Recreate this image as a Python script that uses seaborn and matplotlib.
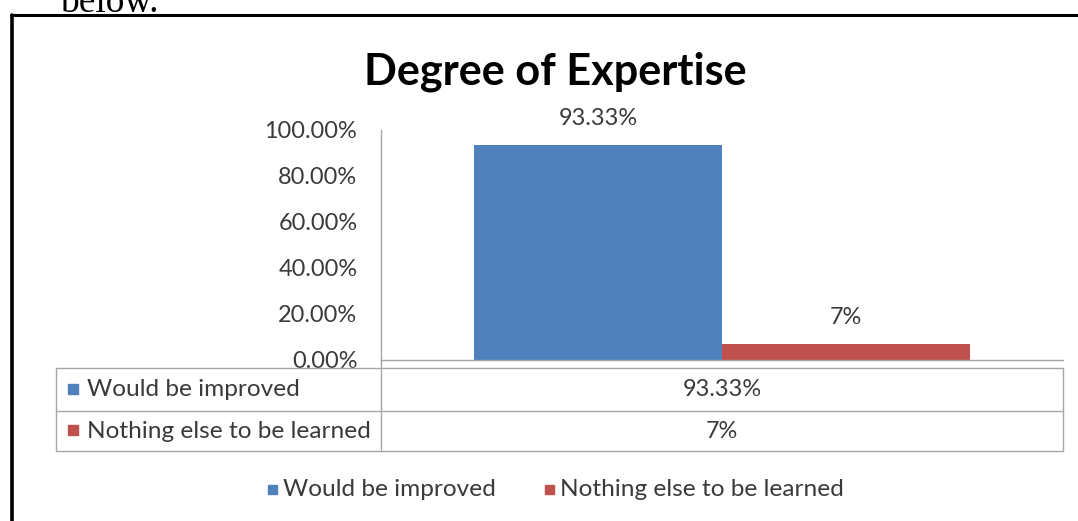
import matplotlib
matplotlib.use("Agg")
import matplotlib.pyplot as plt
import seaborn as sns
import pandas as pd
from matplotlib.lines import Line2D
from matplotlib.patches import Rectangle

# ---- data ----
series = ["Would be improved", "Nothing else to be learned"]
values = [93.33, 7.0]
value_labels = ["93.33%", "7%"]
colors = ["#4F81BD", "#C0504D"]
yticks = [0, 20, 40, 60, 80, 100]
ytick_labels = ["0.00%", "20.00%", "40.00%", "60.00%", "80.00%", "100.00%"]
title = "Degree of Expertise"

sns.set_theme(style="white")
plt.rcParams['font.family'] = ['Lato', 'DejaVu Sans']

W, H = 1078, 521
fig = plt.figure(figsize=(W / 100, H / 100), dpi=100)
fig.patch.set_facecolor("white")


def fx(px):
    return px / W


def fy(py):
    return 1 - py / H


renderer = fig.canvas.get_renderer()


def fit(t, target_px):
    bb = t.get_window_extent(renderer=renderer)
    t.set_fontsize(t.get_fontsize() * target_px / bb.width)
    return t


TXT = "#3a3a3a"
GRID = "#a6a6a6"

ax = fig.add_axes([fx(381), fy(360), fx(1063) - fx(381), fy(130) - fy(360)])
df = pd.DataFrame({"cat": [""] * len(series), "series": series, "value": values})
sns.barplot(data=df, x="cat", y="value", hue="series", hue_order=series,
            palette=colors, width=0.727, saturation=1, ax=ax, legend=False,
            linewidth=0, edgecolor="none")
ax.set_xlim(-0.5, 0.5)
ax.set_ylim(0, 100)
ax.set_xlabel("")
ax.set_ylabel("")
ax.set_xticks([])
ax.set_yticks(yticks)
ax.set_yticklabels(ytick_labels)
ax.tick_params(axis="y", length=0, pad=17, labelsize=13, labelcolor=TXT)
for s in ["top", "right"]:
    ax.spines[s].set_visible(False)
for s in ["left", "bottom"]:
    ax.spines[s].set_color(GRID)
    ax.spines[s].set_linewidth(1.0)
ax.set_facecolor("none")

# fit tick label size
fig.canvas.draw()
lab = [l for l in ax.get_yticklabels() if l.get_text() == "100.00%"][0]
w = lab.get_window_extent(renderer=renderer).width
tick_fs = 13 * 92 / w
ax.tick_params(axis="y", labelsize=tick_fs)

# value labels above bars
for patch, lbl in zip(ax.patches, value_labels):
    cx = patch.get_x() + patch.get_width() / 2
    ax.annotate(lbl, (cx, patch.get_height()), xytext=(0, 19), textcoords="offset points",
                ha="center", va="center", fontsize=tick_fs, color=TXT)

# title
t = fig.text(fx(555), fy(72), title, ha="center", va="center", fontsize=26,
             fontweight="bold", color="black")
fit(t, 383)

# data table
tab_l, tab_m, tab_r = 56, 381, 1063
rows_y = [368, 411, 451]
for y in rows_y:
    fig.add_artist(Line2D([fx(tab_l), fx(tab_r)], [fy(y), fy(y)], color=GRID, lw=1.0))
for x in [tab_l, tab_r]:
    fig.add_artist(Line2D([fx(x), fx(x)], [fy(rows_y[0]), fy(rows_y[-1])], color=GRID, lw=1.0))
fig.add_artist(Line2D([fx(tab_m), fx(tab_m)], [fy(360), fy(rows_y[-1])], color=GRID, lw=1.0))

table_fs = None
for i, (name, lbl, c) in enumerate(zip(series, value_labels, colors)):
    yc = (rows_y[i] + rows_y[i + 1]) / 2
    fig.add_artist(Rectangle((fx(68), fy(yc + 4)), fx(10), 10 / H, color=c,
                             transform=fig.transFigure))
    tt = fig.text(fx(87), fy(yc), name, ha="left", va="center", fontsize=14, color=TXT)
    if i == 1:
        fit(tt, 284)
        table_fs = tt.get_fontsize()
    fig.text(fx((tab_m + tab_r) / 2), fy(yc), lbl, ha="center", va="center",
             fontsize=tick_fs, color=TXT)
for tt in fig.texts:
    if tt.get_text() in series:
        tt.set_fontsize(table_fs)

# legend
leg_x = [268, 545]
for name, c, x0 in zip(series, colors, leg_x):
    fig.add_artist(Rectangle((fx(x0), fy(494)), fx(9), 9 / H, color=c,
                             transform=fig.transFigure))
    fig.text(fx(x0 + 15), fy(490), name, ha="left", va="center", fontsize=table_fs, color=TXT)

# outer frame (black border from document screenshot)
fig.add_artist(Line2D([fx(12), fx(12)], [fy(15), fy(521)], color="black", lw=2.6))
fig.add_artist(Line2D([fx(11), fx(1078)], [fy(15), fy(15)], color="black", lw=2.2))

# clipped document text above the chart (cut off at the top in the reference too)
fig.text(fx(60), fy(12), "below.", ha="left", va="baseline", fontsize=27,
         family="Liberation Serif", color="black")

fig.savefig("out.png", dpi=100, facecolor="white")
